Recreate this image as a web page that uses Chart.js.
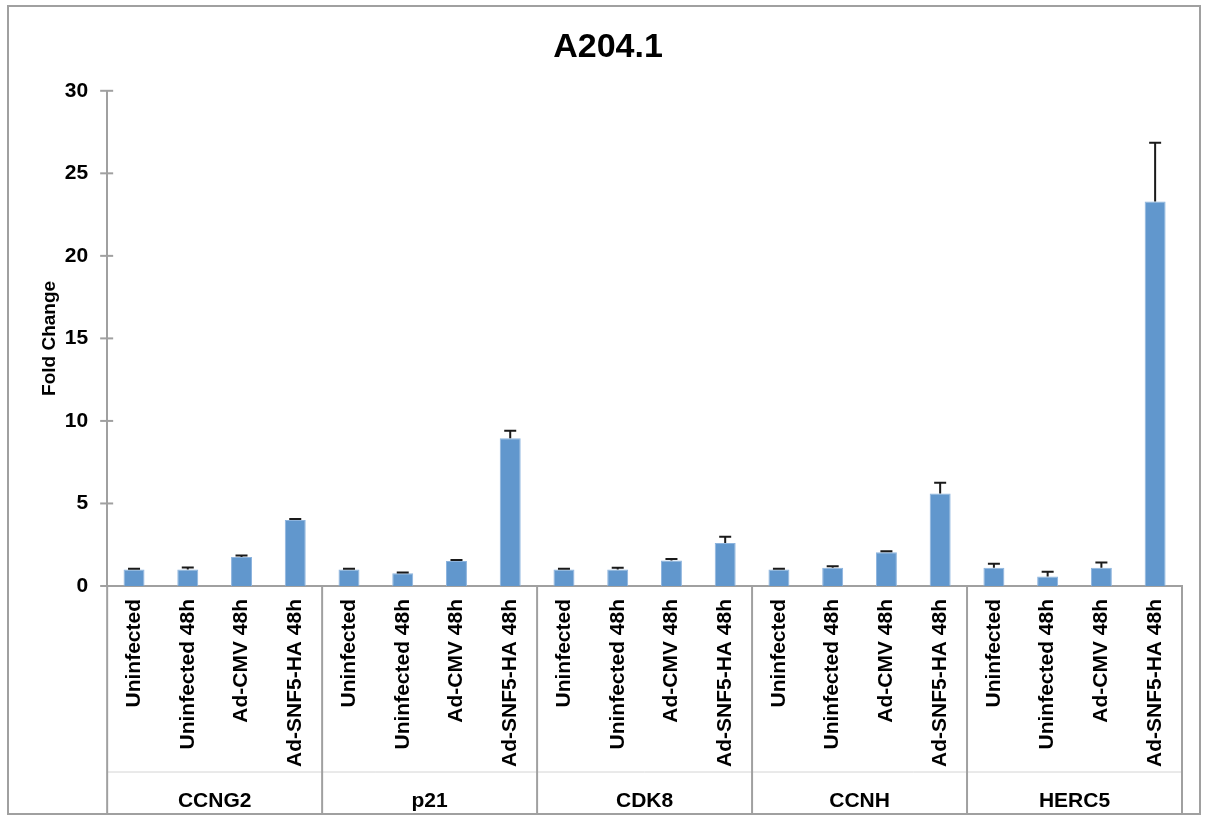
<!DOCTYPE html>
<html>
<head>
<meta charset="utf-8">
<script src="https://cdn.jsdelivr.net/npm/chart.js@4"></script>
<style>
  html, body { margin: 0; padding: 0; background: #fff; }
  #wrap { width: 1205px; height: 820px; }
</style>
</head>
<body>
<div id="wrap"><canvas id="fold-change-chart"></canvas></div>
<script>
const genes = ['CCNG2', 'p21', 'CDK8', 'CCNH', 'HERC5']
const conditions = ['Uninfected', 'Uninfected 48h', 'Ad-CMV 48h', 'Ad-SNF5-HA 48h']

// fold change per gene, in condition order
const ccng2 = [1.0, 1.0, 1.75, 4.0]
const p21 = [1.0, 0.77, 1.52, 8.95]
const cdk8 = [1.0, 1.0, 1.55, 2.6]
const ccnh = [1.0, 1.1, 2.05, 5.6]
const herc5 = [1.1, 0.57, 1.1, 23.3]

// error bar sizes (upper only)
const ccng2_err = [0.04, 0.12, 0.1, 0.06]
const p21_err = [0.05, 0.04, 0.06, 0.45]
const cdk8_err = [0.05, 0.1, 0.08, 0.38]
const ccnh_err = [0.04, 0.1, 0.06, 0.65]
const herc5_err = [0.25, 0.3, 0.33, 3.55]

const y_ticks = [0, 5, 10, 15, 20, 25, 30]

const values = [].concat(ccng2, p21, cdk8, ccnh, herc5)
const errors = [].concat(ccng2_err, p21_err, cdk8_err, ccnh_err, herc5_err)
const labels = []
genes.forEach(function() {
  conditions.forEach(function(c) { labels.push(c) })
})

const axis_grey = '#a0a0a0'
const font_family = "'Liberation Sans', Arial, sans-serif"

const frame_plugin = {
  id: 'frame',
  beforeDraw(chart) {
    const ctx = chart.ctx
    ctx.save()
    ctx.strokeStyle = axis_grey
    ctx.lineWidth = 2
    ctx.strokeRect(8, 6, 1192, 808)
    ctx.restore()
  }
}

const error_bars = {
  id: 'errorBars',
  afterDatasetsDraw(chart) {
    const ctx = chart.ctx
    const yScale = chart.scales.y
    const meta = chart.getDatasetMeta(0)
    ctx.save()
    ctx.strokeStyle = '#1a1a1a'
    ctx.lineWidth = 2
    meta.data.forEach(function(bar, i) {
      const top = yScale.getPixelForValue(values[i] + errors[i])
      ctx.beginPath()
      ctx.moveTo(bar.x, bar.y)
      ctx.lineTo(bar.x, top)
      ctx.moveTo(bar.x - 6, top)
      ctx.lineTo(bar.x + 6, top)
      ctx.stroke()
    })
    ctx.restore()
  }
}

const group_axis = {
  id: 'groupAxis',
  afterDraw(chart) {
    const ctx = chart.ctx
    const xScale = chart.scales.x
    const yScale = chart.scales.y
    const area = chart.chartArea
    const step = (xScale.right - xScale.left) / labels.length
    const bottom = 813
    ctx.save()

    // crossing y ticks
    ctx.strokeStyle = axis_grey
    ctx.lineWidth = 2
    y_ticks.forEach(function(v) {
      const y = yScale.getPixelForValue(v)
      ctx.beginPath()
      ctx.moveTo(area.left - 7, y)
      ctx.lineTo(area.left + 6, y)
      ctx.stroke()
    })

    // light line between condition labels and gene labels
    ctx.strokeStyle = '#d4d4d4'
    ctx.lineWidth = 1
    ctx.beginPath()
    ctx.moveTo(xScale.left, 772)
    ctx.lineTo(xScale.right, 772)
    ctx.stroke()

    // gene separators
    ctx.strokeStyle = axis_grey
    ctx.lineWidth = 2
    for (let g = 0; g <= genes.length; g++) {
      const x = xScale.left + g * conditions.length * step
      ctx.beginPath()
      ctx.moveTo(x, area.bottom)
      ctx.lineTo(x, bottom)
      ctx.stroke()
    }

    // gene labels
    ctx.fillStyle = '#000'
    ctx.font = 'bold 21px ' + font_family
    ctx.textAlign = 'center'
    ctx.textBaseline = 'middle'
    genes.forEach(function(name, g) {
      const x = xScale.left + (g + 0.5) * conditions.length * step
      ctx.fillText(name, x, 801)
    })
    ctx.restore()
  }
}

const chart = new Chart(document.getElementById('fold-change-chart').getContext('2d'), {
  type: 'bar',
  data: {
    labels: labels,
    datasets: [{
      data: values,
      backgroundColor: '#6197cd',
      borderColor: '#8db4de',
      borderWidth: 1,
      barPercentage: 0.39,
      categoryPercentage: 1.0
    }]
  },
  options: {
    responsive: true,
    maintainAspectRatio: false,
    animation: false,
    layout: {
      padding: { left: 34, right: 23, top: 0, bottom: 48 }
    },
    plugins: {
      legend: { display: false },
      tooltip: { enabled: false },
      title: {
        display: true,
        text: 'A204.1',
        color: '#000',
        font: { family: font_family, size: 34, weight: 'bold' },
        padding: { top: 27, bottom: 23 }
      }
    },
    scales: {
      x: {
        grid: { display: false },
        border: { display: true, color: axis_grey, width: 2 },
        ticks: {
          autoSkip: false,
          minRotation: 90,
          maxRotation: 90,
          padding: 5,
          color: '#000',
          font: { family: font_family, size: 21, weight: 'bold' }
        }
      },
      y: {
        min: 0,
        max: 30,
        grid: { display: false },
        border: { display: true, color: axis_grey, width: 2 },
        afterBuildTicks(axis) {
          axis.ticks = y_ticks.map(function(v) { return { value: v } })
        },
        ticks: {
          padding: 11,
          color: '#000',
          font: { family: font_family, size: 21, weight: 'bold' }
        },
        title: {
          display: true,
          text: 'Fold Change',
          color: '#000',
          font: { family: font_family, size: 19, weight: 'bold' },
          padding: { top: 4, bottom: -7 }
        }
      }
    }
  },
  plugins: [frame_plugin, error_bars, group_axis]
})
</script>
</body>
</html>
